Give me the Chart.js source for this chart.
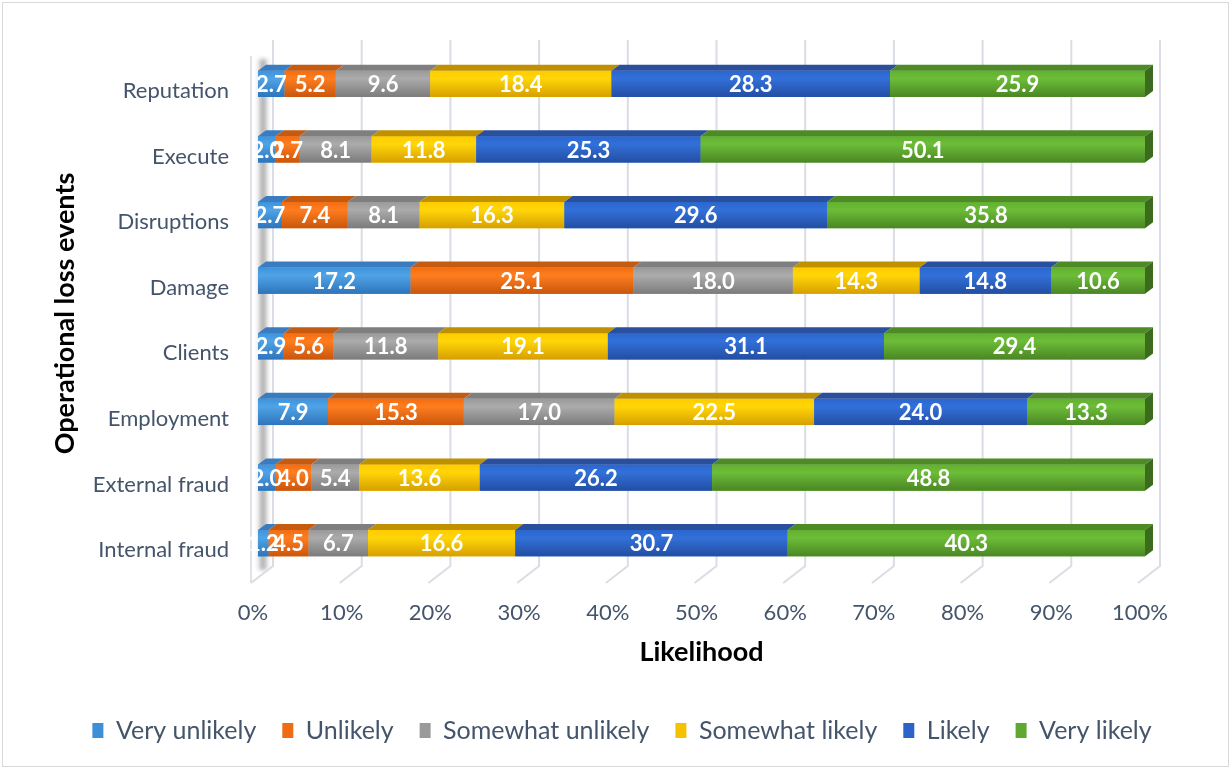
<!DOCTYPE html>
<html>
<head>
<meta charset="utf-8">
<title>Operational loss events</title>
<script src="https://cdn.jsdelivr.net/npm/chart.js@4.4.0/dist/chart.umd.min.js"></script>
<style>
  html, body { margin: 0; padding: 0; background: #fff; }
</style>
</head>
<body>
<canvas id="myChart" width="1231" height="769"></canvas>
<script>
// eventos (de cima para baixo)
const categorias = ['Reputation', 'Execute', 'Disruptions', 'Damage', 'Clients', 'Employment', 'External fraud', 'Internal fraud'];

// valores de cada resposta por evento
const veryUnlikely     = [2.7, 2.0, 2.7, 17.2, 2.9, 7.9, 2.0, 1.2];
const unlikely         = [5.2, 2.7, 7.4, 25.1, 5.6, 15.3, 4.0, 4.5];
const somewhatUnlikely = [9.6, 8.1, 8.1, 18.0, 11.8, 17.0, 5.4, 6.7];
const somewhatLikely   = [18.4, 11.8, 16.3, 14.3, 19.1, 22.5, 13.6, 16.6];
const likely           = [28.3, 25.3, 29.6, 14.8, 31.1, 24.0, 26.2, 30.7];
const veryLikely       = [25.9, 50.1, 35.8, 10.6, 29.4, 13.3, 48.8, 40.3];

const nomesSeries = ['Very unlikely', 'Unlikely', 'Somewhat unlikely', 'Somewhat likely', 'Likely', 'Very likely'];
const valoresSeries = [veryUnlikely, unlikely, somewhatUnlikely, somewhatLikely, likely, veryLikely];

const ticksX = [0, 10, 20, 30, 40, 50, 60, 70, 80, 90, 100];

// cores: frente (topo, meio, base), tampa de cima e lateral
const cores = [
    { a: '#3f93dc', b: '#4fa3e6', c: '#2e74bb', tampa: '#3a7cc0', lado: '#2b669f', solida: '#3f8fd8' },
    { a: '#f36d12', b: '#ff7d1f', c: '#c9560c', tampa: '#c55a11', lado: '#a84b0c', solida: '#ef6c14' },
    { a: '#9a9a9a', b: '#ababab', c: '#7b7b7b', tampa: '#7f7f7f', lado: '#6a6a6a', solida: '#9a9a9a' },
    { a: '#ffcc00', b: '#ffd608', c: '#d69f00', tampa: '#bf9000', lado: '#a07800', solida: '#f5c200' },
    { a: '#2c66cf', b: '#3270d9', c: '#234ea3', tampa: '#2a4f9c', lado: '#1f3f80', solida: '#2b63c8' },
    { a: '#62b030', b: '#6dbd38', c: '#4a8624', tampa: '#4e8a26', lado: '#3b6b1c', solida: '#5fa832' }
];

const fonte = 'Lato, "Open Sans", sans-serif';
const corTexto = '#44546a';
const DX = 8, DY = 6;   // profundidade das barras

// cada barra vai a 100%: soma da linha
const totais = categorias.map((c, i) => valoresSeries.reduce((s, arr) => s + arr[i], 0));

const datasets = nomesSeries.map((nome, k) => ({
    label: nome,
    data: valoresSeries[k].map((v, i) => v / totais[i] * 100),
    backgroundColor: cores[k].solida,
    borderWidth: 0,
    barPercentage: 0.4,
    categoryPercentage: 1
}));

// parede, grade em perspectiva, faces 3D e rotulos
const efeito3d = {
    id: 'efeito3d',
    afterLayout(chart) {
        // legenda centrada na largura toda, nao so ate o fim da area do grafico
        const leg = chart.legend;
        if (leg) {
            leg.left = 13;
            leg.right = chart.width;
            leg.width = leg.right - leg.left;
        }
    },
    beforeDraw(chart) {
        const ctx = chart.ctx;
        ctx.save();
        ctx.fillStyle = '#fff';
        ctx.fillRect(0, 0, chart.width, chart.height);
        ctx.strokeStyle = '#d9d9d9';
        ctx.lineWidth = 1;
        ctx.strokeRect(2.5, 2.5, chart.width - 5, chart.height - 5);
        ctx.restore();
    },
    beforeDatasetsDraw(chart) {
        const { ctx, chartArea: a, scales: { x } } = chart;
        const x0 = x.getPixelForValue(0);
        ctx.save();
        // parede da esquerda
        ctx.strokeStyle = '#dfe2e8';
        ctx.lineWidth = 2;
        ctx.beginPath();
        ctx.moveTo(x0 - 7, a.bottom + 7);
        ctx.lineTo(x0 - 7, a.top + 5);
        ctx.stroke();
        ctx.filter = 'blur(2px)';
        const sombra = ctx.createLinearGradient(x0 - 1, 0, x0 + 11, 0);
        sombra.addColorStop(0, 'rgba(150,150,150,0)');
        sombra.addColorStop(0.5, 'rgba(120,120,120,0.75)');
        sombra.addColorStop(1, 'rgba(150,150,150,0)');
        ctx.fillStyle = sombra;
        ctx.fillRect(x0 - 1, a.top + 8, 12, a.bottom - a.top - 14);
        ctx.filter = 'none';
        // linhas de grade com o chao inclinado
        ctx.strokeStyle = '#dadde5';
        ctx.lineWidth = 2;
        ticksX.forEach(v => {
            const px = x.getPixelForValue(v);
            ctx.beginPath();
            ctx.moveTo(px + 15, a.top - 11);
            ctx.lineTo(px + 15, a.bottom - 10);
            ctx.lineTo(px - 7, a.bottom + 7);
            ctx.stroke();
        });
        ctx.restore();
    },
    afterDatasetsDraw(chart) {
        const ctx = chart.ctx;
        const ultimo = chart.data.datasets.length - 1;
        ctx.save();
        chart.data.datasets.forEach((ds, k) => {
            const meta = chart.getDatasetMeta(k);
            meta.data.forEach(bar => {
                const x0 = Math.min(bar.x, bar.base);
                const x1 = Math.max(bar.x, bar.base);
                const topo = bar.y - bar.height / 2;
                const base = bar.y + bar.height / 2;
                // frente com degrade
                const g = ctx.createLinearGradient(0, topo, 0, base);
                g.addColorStop(0, cores[k].a);
                g.addColorStop(0.3, cores[k].b);
                g.addColorStop(1, cores[k].c);
                ctx.fillStyle = g;
                ctx.fillRect(x0, topo, x1 - x0, base - topo);
                // tampa
                ctx.fillStyle = cores[k].tampa;
                ctx.beginPath();
                ctx.moveTo(x0, topo);
                ctx.lineTo(x0 + DX, topo - DY);
                ctx.lineTo(x1 + DX, topo - DY);
                ctx.lineTo(x1, topo);
                ctx.closePath();
                ctx.fill();
                // lateral so na ultima serie
                if (k === ultimo) {
                    ctx.fillStyle = cores[k].lado;
                    ctx.beginPath();
                    ctx.moveTo(x1, topo);
                    ctx.lineTo(x1 + DX, topo - DY);
                    ctx.lineTo(x1 + DX, base - DY);
                    ctx.lineTo(x1, base);
                    ctx.closePath();
                    ctx.fill();
                }
            });
        });
        // rotulos com o valor de cada parte
        ctx.font = 'bold 22px ' + fonte;
        ctx.fillStyle = '#fff';
        ctx.textAlign = 'center';
        ctx.textBaseline = 'middle';
        chart.data.datasets.forEach((ds, k) => {
            chart.getDatasetMeta(k).data.forEach((bar, i) => {
                ctx.fillText(valoresSeries[k][i].toFixed(1), (bar.x + bar.base) / 2, bar.y + 1);
            });
        });
        ctx.restore();
    }
};

const options = {
    responsive: false,
    animation: false,
    indexAxis: 'y',
    layout: { padding: { top: 51, right: 86, bottom: 16, left: 0 } },
    scales: {
        x: {
            stacked: true,
            min: 0,
            max: 100,
            grid: { display: false, drawTicks: false },
            border: { display: false },
            afterBuildTicks: s => { s.ticks = ticksX.map(v => ({ value: v })); },
            afterFit: s => { s.height = 116; },
            ticks: {
                callback: v => v + '%',
                color: corTexto,
                font: { size: 22, family: fonte },
                padding: 24,
                labelOffset: -5,
                maxRotation: 0,
                autoSkip: false
            },
            title: {
                display: true,
                text: 'Likelihood',
                color: '#000',
                font: { size: 27, weight: 'bold', family: fonte },
                padding: { top: 0, bottom: 24 }
            }
        },
        y: {
            stacked: true,
            grid: { display: false, drawTicks: false },
            border: { display: false },
            afterFit: s => { s.width = 258; },
            ticks: {
                color: corTexto,
                font: { size: 22, family: fonte },
                padding: 29,
                labelOffset: 7
            },
            title: {
                display: true,
                text: 'Operational loss events',
                color: '#000',
                font: { size: 27, weight: 'bold', family: fonte },
                padding: { top: 49, bottom: 0 }
            }
        }
    },
    plugins: {
        legend: {
            position: 'bottom',
            labels: {
                boxWidth: 11,
                boxHeight: 15,
                padding: 26,
                color: corTexto,
                font: { size: 25, family: fonte }
            }
        },
        tooltip: { enabled: false }
    }
};

const config = {
    type: 'bar',
    data: { labels: categorias, datasets: datasets },
    options: options,
    plugins: [efeito3d]
};

const myChart = new Chart(document.getElementById('myChart'), config);
</script>
</body>
</html>
